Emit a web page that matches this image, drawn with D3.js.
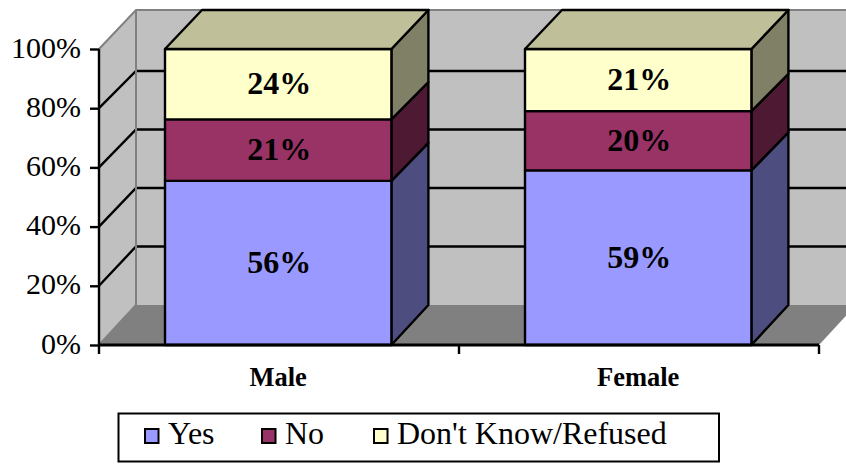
<!DOCTYPE html>
<html><head><meta charset="utf-8">
<script src="https://cdn.jsdelivr.net/npm/d3@7"></script>
<style>html,body{margin:0;padding:0;background:#fff}svg{display:block}text{font-family:"Liberation Serif",serif;fill:#000}</style>
</head><body><svg id="c" width="846" height="464"></svg>
<script>
const categories = ["Male", "Female"];
const seriesNames = ["Yes", "No", "Don't Know/Refused"];
const yes = [56, 59];
const no = [21, 20];
const dontKnow = [24, 21];
const yTicks = [0, 20, 40, 60, 80, 100];
const frontColors = ["#9999ff", "#993366", "#ffffcc"];
const sideColors = ["#4d4d80", "#4d1933", "#808066"];
const topColor = "#bfbf99";

const W = 846, dx = 37, sw = 2.4;
const svg = d3.select("#c");
const rows = categories.map((c, i) => ({cat: c, Yes: yes[i], No: no[i], "Don't Know/Refused": dontKnow[i]}));
const stacked = d3.stack().keys(seriesNames).offset(d3.stackOffsetExpand)(rows);
const x = d3.scaleBand().domain(categories).range([98.2, 818.2]).paddingInner(133.6/360).paddingOuter(66.8/360);
const y = d3.scaleLinear().domain([0, 1]).range([345, 49]);
const yBack = d3.scaleLinear().domain([0, 0.8, 1]).range([305, 71, 10]);
const line = d3.line();
const poly = pts => line(pts) + "Z";
const x0 = 99, x1 = 819, y0 = y(0), y1 = y(1);

// walls and floor
svg.append("path").attr("d", poly([[x0+dx, yBack(1)],[W, yBack(1)],[W, yBack(0)],[x0+dx, yBack(0)]])).attr("fill", "#c0c0c0");
svg.append("path").attr("d", poly([[x0, y1],[x0+dx, yBack(1)],[x0+dx, yBack(0)],[x0, y0]])).attr("fill", "#c0c0c0");
svg.append("path").attr("d", poly([[x0, y0],[x0+dx, yBack(0)],[x1+dx, yBack(0)],[x1, y0]])).attr("fill", "#808080");
// gridlines
yTicks.filter(t => t > 0 && t < 100).forEach(t => {
  const v = t/100;
  svg.append("path").attr("d", line([[x0, y(v)],[x0+dx, yBack(v)],[W, yBack(v)]])).attr("fill", "none").attr("stroke", "#000").attr("stroke-width", sw);
});
// wall edges
const edge = pts => svg.append("path").attr("d", line(pts)).attr("fill", "none").attr("stroke", "#808080").attr("stroke-width", 2);
edge([[x0, y1],[x0+dx, yBack(1)],[W, yBack(1)]]);
edge([[x0+dx, yBack(1)],[x0+dx, yBack(0)]]);
edge([[x0, y0],[x0+dx, yBack(0)]]);

// bars
const lab = {Yes: yes, No: no, "Don't Know/Refused": dontKnow};
categories.forEach((c, ci) => {
  const l = x(c), r = l + x.bandwidth();
  stacked.forEach((s, si) => {
    const v0 = s[ci][0], v1 = s[ci][1], a = y(v0), b = y(v1);
    const g = svg.append("g").attr("stroke", "#000").attr("stroke-width", sw).attr("stroke-linejoin", "round");
    g.append("path").attr("d", poly([[r, a],[r+dx, yBack(v0)],[r+dx, yBack(v1)],[r, b]])).attr("fill", sideColors[si]);
    g.append("rect").attr("x", l).attr("y", b).attr("width", r-l).attr("height", a-b).attr("fill", frontColors[si]);
    if (si === stacked.length-1)
      g.append("path").attr("d", poly([[l, b],[l+dx, yBack(v1)],[r+dx, yBack(v1)],[r, b]])).attr("fill", topColor);
  });
});
// data labels
categories.forEach((c, ci) => {
  stacked.forEach((s, si) => {
    svg.append("text").attr("x", x(c)+x.bandwidth()/2+1)
      .attr("y", (y(s[ci][0])+y(s[ci][1]))/2).attr("dy", "0.32em")
      .attr("text-anchor", "middle").attr("font-weight", "bold").attr("font-size", 32)
      .text(lab[s.key][ci] + "%");
  });
});

// axes
const yAxis = d3.axisLeft(y).tickValues(yTicks.map(t => t/100)).tickFormat(d3.format(".0%")).tickSize(9).tickPadding(9);
const gy = svg.append("g").attr("transform", `translate(${x0},0)`).call(yAxis);
gy.select(".domain").attr("stroke-width", sw).attr("stroke", "#000").attr("d", line([[0, y1],[0, y0]]));
gy.selectAll("line").attr("stroke", "#000").attr("stroke-width", sw);
gy.selectAll("text").attr("font-size", 30).attr("dy", "0.27em");

const xAxis = d3.axisBottom(x).tickValues([]).tickSizeOuter(0);
const gx = svg.append("g").attr("transform", `translate(0,${y0})`).call(xAxis);
gx.select(".domain").attr("stroke", "#000").attr("stroke-width", 3).attr("d", line([[x0-1, 0],[x1, 0]]));
const step = x.step();
d3.range(categories.length+1).forEach(i => {
  gx.append("line").attr("x1", x0+i*step).attr("x2", x0+i*step).attr("y1", 0).attr("y2", 9).attr("stroke", "#000").attr("stroke-width", sw);
});
categories.forEach(c => {
  gx.append("text").attr("x", x(c)+x.bandwidth()/2).attr("y", 41).attr("text-anchor", "middle")
    .attr("font-weight", "bold").attr("font-size", 26.5).text(c);
});

// legend
const lg = svg.append("g");
lg.append("rect").attr("x", 118.5).attr("y", 413.5).attr("width", 600.5).attr("height", 48).attr("fill", "#fff").attr("stroke", "#000").attr("stroke-width", 2);
const swatchX = [145, 262, 374];
seriesNames.forEach((n, i) => {
  lg.append("rect").attr("x", swatchX[i]).attr("y", 429).attr("width", 13.5).attr("height", 14).attr("fill", frontColors[i]).attr("stroke", "#000").attr("stroke-width", 2);
  lg.append("text").attr("x", swatchX[i]+23).attr("y", 444).attr("font-size", 32).text(n);
});
</script></body></html>
